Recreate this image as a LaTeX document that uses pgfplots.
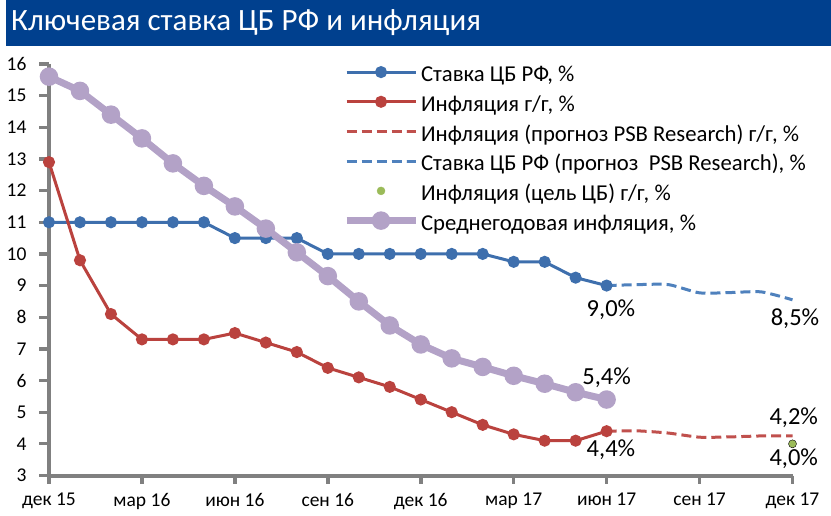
\documentclass[border=0pt]{standalone}
\usepackage{pgfplots}
\pgfplotsset{compat=1.18}
\usepackage{fontspec}
\setmainfont{Carlito}
\definecolor{titlebg}{RGB}{0,64,142}
\definecolor{bluec}{RGB}{62,111,173}
\definecolor{bluef}{RGB}{79,129,189}
\definecolor{redc}{RGB}{186,66,62}
\definecolor{redf}{RGB}{192,80,77}
\definecolor{purplec}{RGB}{179,162,199}
\definecolor{greenc}{RGB}{155,187,89}
\colorlet{axisgray}{black!50}
\begin{document}
\begin{tikzpicture}
\useasboundingbox (0pt,0pt) rectangle (831pt,515pt);
\fill[titlebg] (6pt,469pt) rectangle (831pt,515pt);
\node[anchor=west, text=white, font=\fontsize{31}{31}\selectfont, inner sep=0] at (11pt,492pt) {Ключевая ставка ЦБ РФ и инфляция};
\begin{axis}[
  at={(49pt,39.5pt)}, anchor=south west,
  scale only axis, width=743.5pt, height=411.5pt,
  xmin=0, xmax=24, ymin=3, ymax=16,
  axis x line*=bottom, axis y line*=left,
  axis line style={draw=none},
  ytick={3,...,16}, xtick={0,3,...,24},
  xticklabels={дек 15, мар 16, июн 16, сен 16, дек 16, мар 17, июн 17, сен 17, дек 17},
  tick align=outside, major tick length=10pt,
  major tick style={draw=none},
  ticklabel style={font=\fontsize{19.5}{19.5}\selectfont},
  yticklabel style={xshift=-9pt},
  xticklabel style={yshift=-4pt},
  /pgf/number format/assume math mode=true,
  clip=false,
  legend cell align=left,
  legend image code/.code={\draw[mark repeat=2,mark phase=2,#1] plot coordinates {(0pt,0pt) (34.5pt,0pt) (69pt,0pt)};},
  legend style={at={(0.3952,1.013)}, anchor=north west, draw=none, fill=none,
    font=\fontsize{22.7}{30}\selectfont, inner sep=0pt, row sep=3.2pt},
]
% axis lines and ticks
\draw[color=axisgray, line width=4pt] (axis cs:0,16) -- (axis cs:0,3) -- (axis cs:24,3);
\pgfplotsinvokeforeach{3,...,16}{\draw[color=axisgray, line width=3.3pt] (axis cs:0,#1) -- ++(-9.5pt,0pt);}
\pgfplotsinvokeforeach{0,3,...,24}{\draw[color=axisgray, line width=3.6pt] (axis cs:#1,3) -- ++(0pt,-8.5pt);}
\addplot[bluec, line width=3pt, mark=*, mark size=4.5pt, mark options={draw=none, fill=bluec}]
coordinates {(0,11) (1,11) (2,11) (3,11) (4,11) (5,11) (6,10.5) (7,10.5) (8,10.5) (9,10) (10,10) (11,10) (12,10) (13,10) (14,10) (15,9.75) (16,9.75) (17,9.25) (18,9.0)};
\addlegendentry{\strut Ставка ЦБ РФ, \%}
\addplot[redc, line width=3pt, mark=*, mark size=4.5pt, mark options={draw=none, fill=redc}]
coordinates {(0,12.9) (1,9.8) (2,8.1) (3,7.3) (4,7.3) (5,7.3) (6,7.5) (7,7.2) (8,6.9) (9,6.4) (10,6.1) (11,5.8) (12,5.4) (13,5.0) (14,4.6) (15,4.3) (16,4.1) (17,4.1) (18,4.4)};
\addlegendentry{\strut Инфляция г/г, \%}
\addplot[redf, line width=3pt, dash pattern=on 10pt off 5pt, smooth, tension=0.4]
coordinates {(18,4.4) (19,4.41) (20,4.34) (21,4.21) (22,4.22) (23,4.25) (24,4.25)};
\addlegendentry{\strut Инфляция (прогноз PSB Research) г/г, \%}
\addplot[bluef, line width=3pt, dash pattern=on 10pt off 5pt, smooth, tension=0.4]
coordinates {(18,9.0) (19,9.03) (20,9.03) (21,8.77) (22,8.78) (23,8.8) (24,8.55)};
\addlegendentry{\strut Ставка ЦБ РФ (прогноз\ \ PSB Research), \%}
\addplot[only marks, mark=*, mark size=4pt, mark options={draw=none, fill=greenc},
  legend image code/.code={\fill[greenc] (34.5pt,0pt) circle (4pt);}]
coordinates {(24,4.0)};
\addlegendentry{\strut Инфляция (цель ЦБ) г/г, \%}
\addplot[purplec, line width=7pt, mark=*, mark size=5.7pt, mark options={draw=none, fill=purplec}]
coordinates {(0,15.6) (1,15.15) (2,14.4) (3,13.65) (4,12.86) (5,12.15) (6,11.5) (7,10.8) (8,10.05) (9,9.3) (10,8.5) (11,7.74) (12,7.14) (13,6.7) (14,6.43) (15,6.15) (16,5.9) (17,5.63) (18,5.4)};
\addlegendentry{\strut Среднегодовая инфляция, \%}
\begin{scope}[font=\fontsize{24.5}{24.5}\selectfont]
\node at (axis cs:18.14,8.23) {9,0\%};
\node at (axis cs:24.08,7.94) {8,5\%};
\node at (axis cs:18.0,6.09) {5,4\%};
\node at (axis cs:24.04,4.82) {4,2\%};
\node at (axis cs:18.14,3.81) {4,4\%};
\node at (axis cs:24.04,3.53) {4,0\%};
\end{scope}
\end{axis}
\end{tikzpicture}
\end{document}
